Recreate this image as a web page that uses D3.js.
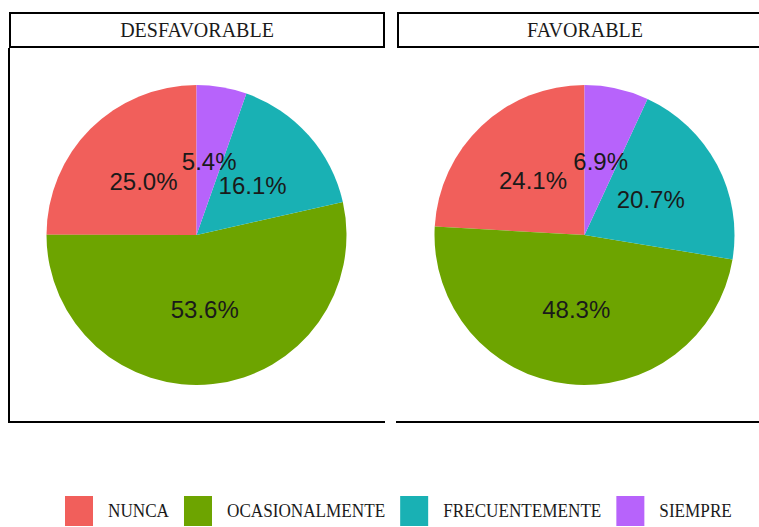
<!DOCTYPE html>
<html>
<head>
<meta charset="utf-8">
<script src="https://cdn.jsdelivr.net/npm/d3@7"></script>
<style>
  body { margin: 0; background: #fff; overflow: hidden; }
  svg { display: block; }
</style>
</head>
<body>
<div id="chart"></div>
<script>
// data
var groups = ["DESFAVORABLE", "FAVORABLE"];
var categories = ["NUNCA", "OCASIONALMENTE", "FRECUENTEMENTE", "SIEMPRE"];
var desfavorable = [25.0, 53.6, 16.1, 5.4];
var favorable = [24.1, 48.3, 20.7, 6.9];
var colours = ["#F15F5B", "#6DA400", "#19B1B4", "#B763FB"];

var seriesByGroup = [desfavorable, favorable];

var width = 759, height = 527;
var panelW = 375, panelTop = 48, panelBottom = 422;
var panelX = [9, 397];
var radius = 150;

var svg = d3.select("#chart").append("svg")
    .attr("width", width)
    .attr("height", height);

var colour = d3.scaleOrdinal().domain(categories).range(colours);

// counterclockwise from 12 o'clock, like coord_polar
var pie = d3.pie()
    .sort(null)
    .value(d => d.value)
    .startAngle(0)
    .endAngle(-2 * Math.PI);

var arc = d3.arc().innerRadius(0).outerRadius(radius);
var labelArc = d3.arc().innerRadius(radius / 2).outerRadius(radius / 2);

groups.forEach((g, i) => {
    var x0 = panelX[i];
    var data = categories.map((c, j) => ({cat: c, value: seriesByGroup[i][j]}));

    // strip
    svg.append("rect")
        .attr("x", x0 + 1).attr("y", 13)
        .attr("width", panelW - 1).attr("height", 34)
        .attr("fill", "#fff")
        .attr("stroke", "#000")
        .attr("stroke-width", 2);
    svg.append("text")
        .attr("x", x0 + panelW / 2 + 0.5).attr("y", 30)
        .attr("text-anchor", "middle")
        .attr("dominant-baseline", "central")
        .style("font-family", "'Liberation Serif', 'Times New Roman', serif")
        .style("font-size", "20px")
        .attr("fill", "#1a1a1a")
        .text(g);

    var cx = x0 + panelW / 2, cy = (panelTop + panelBottom) / 2;
    var gp = svg.append("g").attr("transform", "translate(" + cx + "," + cy + ")");

    gp.selectAll("path")
        .data(pie(data))
        .enter().append("path")
        .attr("d", arc)
        .attr("fill", d => colour(d.data.cat));

    gp.selectAll("text")
        .data(pie(data))
        .enter().append("text")
        .attr("transform", d => "translate(" + labelArc.centroid(d) + ")")
        .attr("text-anchor", "middle")
        .attr("dominant-baseline", "central")
        .style("font-family", "'Liberation Sans', Arial, sans-serif")
        .style("font-size", "24px")
        .attr("fill", "#1a1a1a")
        .text(d => d.data.value.toFixed(1) + "%");

    // axis lines (theme_classic: y line only on first panel)
    if (i == 0) {
        svg.append("line")
            .attr("x1", x0).attr("x2", x0)
            .attr("y1", panelTop).attr("y2", panelBottom + 1)
            .attr("stroke", "#000").attr("stroke-width", 2);
    }
    svg.append("line")
        .attr("x1", x0 - 1).attr("x2", x0 + panelW + 1)
        .attr("y1", panelBottom).attr("y2", panelBottom)
        .attr("stroke", "#000").attr("stroke-width", 2);
});

// legend
var legend = svg.append("g");
var lx = 65, keyW = 28, gap = 15, squeeze = 0.88;
categories.forEach((c, j) => {
    legend.append("rect")
        .attr("x", lx).attr("y", 496)
        .attr("width", keyW).attr("height", 30)
        .attr("fill", colour(c));
    var tx = lx + keyW + gap;
    var t = legend.append("text")
        .attr("transform", "translate(" + tx + ",511) scale(" + squeeze + ",1)")
        .attr("dominant-baseline", "central")
        .style("font-family", "'Liberation Serif', 'Times New Roman', serif")
        .style("font-size", "19.5px")
        .attr("fill", "#1a1a1a")
        .text(c);
    lx = tx + t.node().getComputedTextLength() * squeeze + gap;
});
</script>
</body>
</html>
